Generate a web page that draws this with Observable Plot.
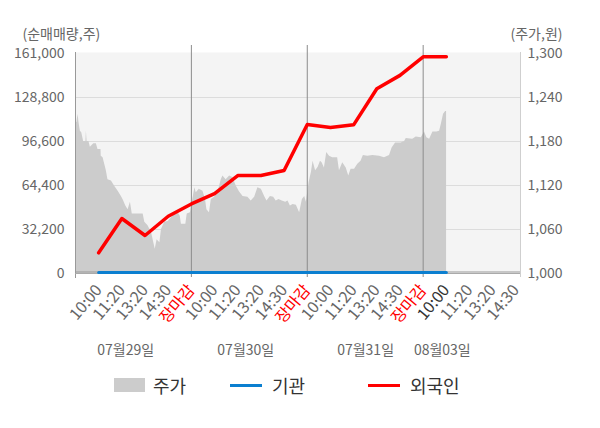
<!DOCTYPE html>
<html>
<head>
<meta charset="utf-8">
<script src="https://cdn.jsdelivr.net/npm/d3@7"></script>
<script src="https://cdn.jsdelivr.net/npm/@observablehq/plot@0.6"></script>
<style>
  html, body { margin: 0; padding: 0; background: #fff; }
  body { font-family: "Noto Sans CJK KR", "Noto Sans", sans-serif; }
  #wrap { position: relative; width: 600px; height: 428px; }
  #chart { position: absolute; left: 0; top: 0; }
  .lg { position: absolute; top: 374px; font-size: 18px; color: #333; line-height: 22px; }
  .sw { position: absolute; }
</style>
</head>
<body>
<div id="wrap">
  <div id="chart"></div>
  <div class="sw" style="left:114px; top:378px; width:31px; height:14px; background:#cccccc;"></div>
  <div class="lg" style="left:153px;">주가</div>
  <div class="sw" style="left:230px; top:384px; width:32px; height:3px; background:#0b7fd0;"></div>
  <div class="lg" style="left:272px;">기관</div>
  <div class="sw" style="left:368px; top:384px; width:32px; height:3px; background:#ff0000;"></div>
  <div class="lg" style="left:410px;">외국인</div>
</div>
<script>
// ---- data ----
const tickLabels = ["10:00","11:20","13:20","14:30","장마감",
                    "10:00","11:20","13:20","14:30","장마감",
                    "10:00","11:20","13:20","14:30","장마감",
                    "10:00","11:20","13:20","14:30"];
const highlightSlot = 16;
const dayLabels = ["07월29일","07월30일","07월31일","08월03일"];
const dayLabelAt = [0.94, 6.12, 11.29, 14.60];
const dayEnds = [5, 10, 15];

const leftTicks = [0, 32200, 64400, 96600, 128800, 161000];
const priceTicks = [1000, 1060, 1120, 1180, 1240, 1300];

// 외국인 / 기관 net volume at slots 1..16
const flowSlots = [1,2,3,4,5,6,7,8,9,10,11,12,13,14,15,16];
const foreign = [15150, 40250, 27800, 41900, 50900, 58500, 71700, 71700, 75400,
                 109000, 106800, 108800, 135200, 145000, 158600, 158600];
const institution = [0,0,0,0,0,0,0,0,0,0,0,0,0,0,0,0];

// 주가 (price) series
const priceAt = [0.0,0.06,0.11,0.15,0.21,0.27,0.35,0.45,0.47,0.50,0.58,0.64,0.79,0.90,0.97,1.10,1.11,1.19,1.26,1.33,
  1.40,1.55,1.69,1.84,1.98,2.05,2.17,2.27,2.37,2.45,2.92,2.99,3.13,3.28,3.35,3.44,3.52,3.64,3.71,3.85,
  4.00,4.14,4.29,4.43,4.52,4.57,4.76,4.82,4.96,5.05,5.15,5.21,5.34,5.50,5.61,5.67,5.78,5.86,6.00,6.15,
  6.29,6.36,6.50,6.65,6.79,6.94,7.08,7.23,7.44,7.58,7.73,7.87,8.02,8.16,8.26,8.41,8.55,8.66,8.78,8.92,
  9.07,9.17,9.27,9.39,9.53,9.67,9.79,9.89,9.96,10.08,10.18,10.25,10.36,10.47,10.57,10.64,10.74,10.84,10.96,11.10,
  11.31,11.39,11.53,11.68,11.79,11.89,12.04,12.18,12.32,12.42,12.61,12.83,13.12,13.33,13.55,13.66,13.81,14.05,14.20,14.27,
  14.55,14.70,14.92,15.06,15.16,15.28,15.42,15.59,15.71,15.78,15.88,15.97,16.01];
const price = [1206,1206,1217,1206,1194,1192,1180,1180,1194,1180,1180,1172,1177,1177,1169,1169,1160,1158,1149,1140,
  1128,1126,1119,1112,1105,1101,1092,1087,1097,1081,1081,1070,1065,1056,1046,1033,1046,1042,1060,1070,
  1071,1076,1081,1083,1078,1067,1067,1081,1083,1099,1117,1110,1115,1112,1101,1087,1083,1101,1104,1111,
  1128,1133,1128,1133,1131,1119,1111,1105,1104,1099,1104,1117,1115,1105,1099,1105,1104,1099,1101,1099,
  1097,1099,1092,1094,1093,1083,1101,1105,1097,1124,1138,1153,1140,1145,1153,1151,1144,1165,1160,1158,
  1158,1140,1151,1144,1133,1142,1142,1149,1153,1161,1160,1161,1160,1158,1161,1171,1178,1178,1180,1184,
  1183,1186,1185,1193,1185,1183,1193,1193,1194,1203,1217,1221,1221];

// ---- mapping price onto the left scale ----
const pMin = priceTicks[0], pMax = priceTicks[priceTicks.length - 1];
const vMax = leftTicks[leftTicks.length - 1];
const toLeft = p => (p - pMin) / (pMax - pMin) * vMax;
const fromLeft = v => pMin + v / vMax * (pMax - pMin);

const priceData = priceAt.map((s, i) => ({s, v: toLeft(price[i])}));
const flowData = flowSlots.map((s, i) => ({s, f: foreign[i], g: institution[i]}));
const tickData = tickLabels.map((label, i) => ({label, s: i + 1}));
const dayData = dayLabels.map((label, i) => ({label, s: dayLabelAt[i]}));
const fmt = d3.format(",");

const chart = Plot.plot({
  width: 600,
  height: 368,
  marginTop: 53,
  marginBottom: 95,
  marginLeft: 75,
  marginRight: 80,
  style: {fontFamily: "'Noto Sans CJK KR', 'Noto Sans', sans-serif", fontSize: "14px", background: "#fff"},
  x: {type: "linear", domain: [0, 19.2], axis: null},
  y: {domain: [0, vMax], axis: null},
  marks: [
    Plot.frame({fill: "#f4f4f4", stroke: null, insetTop: -1}),
    Plot.gridY(leftTicks.slice(1, -1), {stroke: "#dcdcdc", strokeOpacity: 1}),
    Plot.areaY(priceData, {x: "s", y1: 0, y2: "v", fill: "#cccccc"}),
    Plot.ruleX(dayEnds, {stroke: "#8c8c8c", insetTop: -8, insetBottom: -4}),
    Plot.ruleX([0], {stroke: "#999", insetTop: -1, insetBottom: -5}),
    Plot.ruleX([19.2], {stroke: "#cfcfcf", insetTop: -1, insetBottom: -4}),
    Plot.ruleY([0], {stroke: "#999", dy: -1.5}),
    Plot.ruleY([0], {stroke: "#aaa"}),
    Plot.line(flowData, {x: "s", y: "g", stroke: "#0b7fd0", strokeWidth: 3, dy: -1}),
    Plot.line(flowData, {x: "s", y: "f", stroke: "#ff0000", strokeWidth: 3.5}),
    Plot.axisY({anchor: "left", ticks: leftTicks, tickFormat: fmt, tickSize: 0, tickPadding: 11, fill: "#666", fontSize: 14, label: null}),
    Plot.axisY({anchor: "right", ticks: leftTicks, tickFormat: d => fmt(Math.round(fromLeft(d))), tickSize: 0, tickPadding: 7, fill: "#666", fontSize: 14, label: null}),
    Plot.text(["(순매매량,주)"], {frameAnchor: "top-left", dx: -53, dy: -24, textAnchor: "start", fill: "#666", fontSize: 14}),
    Plot.text(["(주가,원)"], {frameAnchor: "top-right", dx: -10, dy: -24, textAnchor: "start", fill: "#666", fontSize: 14}),
    Plot.text(tickData, {x: "s", text: "label", frameAnchor: "bottom", rotate: -50, textAnchor: "end",
      dx: 4, dy: 17, fontSize: 16,
      fill: d => d.label === "장마감" ? "#ff0000" : (d.s === highlightSlot ? "#333333" : "#666666")}),
    Plot.text(dayData, {x: "s", text: "label", frameAnchor: "bottom", dy: 81, textAnchor: "start", fill: "#666", fontSize: 14})
  ]
});
document.getElementById("chart").appendChild(chart);
</script>
</body>
</html>
